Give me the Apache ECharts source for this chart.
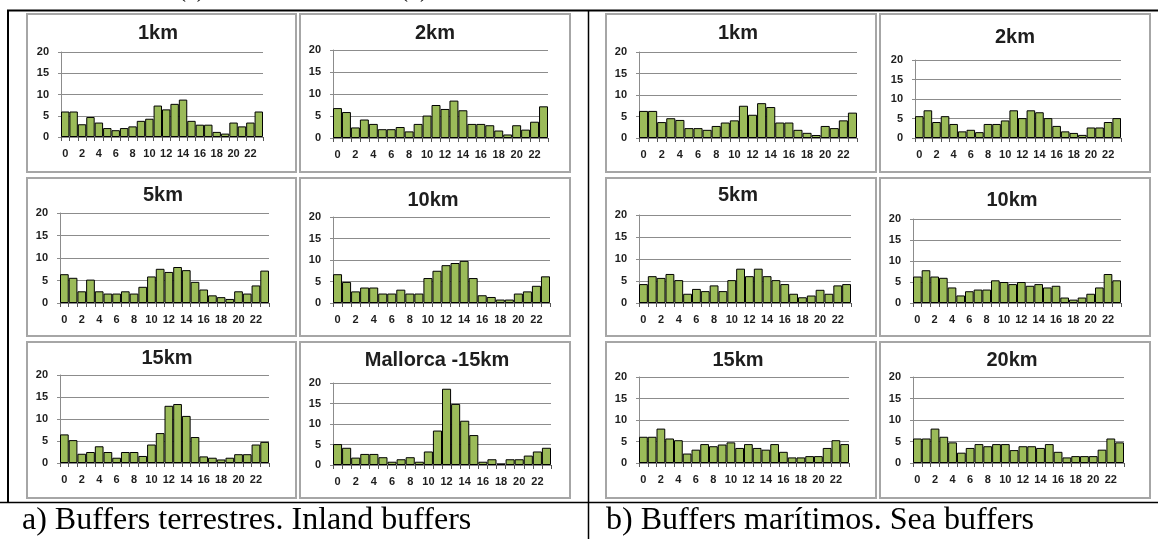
<!DOCTYPE html>
<html>
<head>
<meta charset="utf-8">
<script src="https://cdn.jsdelivr.net/npm/echarts@6/dist/echarts.min.js"></script>
<style>
  html, body { margin: 0; padding: 0; background: #ffffff; }
  #chart { width: 1159px; height: 539px; }
</style>
</head>
<body>
<div id="chart"></div>
<script>
// Hour of day (category axis)
const hours = ['0','1','2','3','4','5','6','7','8','9','10','11','12','13','14','15','16','17','18','19','20','21','22','23'];

// a) Inland buffers — share of events per hour (%)
const inland1km    = [6.0,6.0,3.0,4.7,3.4,2.1,1.6,2.1,2.5,3.8,4.3,7.4,6.5,7.8,8.8,3.8,2.9,2.9,1.2,0.8,3.4,2.5,3.4,6.0];
const inland2km    = [6.8,5.9,2.4,4.2,3.2,2.0,2.0,2.5,1.5,3.2,5.1,7.5,6.6,8.5,6.3,3.2,3.2,2.9,1.7,0.8,2.9,1.9,3.7,7.2];
const inland5km    = [6.4,5.6,2.6,5.2,2.6,2.1,2.1,2.6,2.1,3.6,5.9,7.6,6.9,8.0,7.3,4.7,3.0,1.7,1.3,0.9,2.6,2.1,3.9,7.2];
const inland10km   = [6.7,4.9,2.7,3.6,3.6,2.2,2.2,3.1,2.2,2.2,5.8,7.5,8.8,9.3,9.8,5.8,1.8,1.4,0.8,0.8,2.2,2.7,4.0,6.2];
const inland15km   = [6.5,5.2,2.1,2.5,3.8,2.5,1.2,2.5,2.5,1.6,4.2,6.8,13.0,13.4,10.7,5.9,1.5,1.2,0.8,1.2,2.0,2.0,4.2,4.8];
const mallorca15km = [5.1,4.2,1.8,2.7,2.7,1.9,0.8,1.4,1.9,0.8,3.3,8.4,18.6,14.9,10.8,7.3,0.8,1.4,0.4,1.4,1.4,2.3,3.3,4.2];

// b) Sea buffers — share of events per hour (%)
const sea1km  = [6.3,6.3,3.7,4.6,4.2,2.3,2.3,1.9,2.8,3.6,4.1,7.5,5.4,8.1,7.2,3.6,3.6,1.9,1.2,0.7,2.8,2.3,4.1,5.9];
const sea2km  = [5.6,7.1,4.1,5.6,3.6,1.7,2.1,1.5,3.6,3.6,4.5,7.1,5.1,7.1,6.6,5.1,3.1,1.7,1.3,0.8,2.7,2.7,4.1,5.1];
const sea5km  = [4.3,6.1,5.7,6.6,5.2,2.1,3.2,2.7,4.0,2.7,5.2,7.8,6.1,7.8,6.1,5.2,4.3,2.1,1.3,1.7,3.0,2.1,4.0,4.3];
const sea10km = [6.3,7.8,6.3,6.0,3.7,1.8,2.8,3.2,3.2,5.4,5.0,4.5,5.0,4.1,4.5,3.7,4.1,1.3,0.8,1.3,2.2,3.7,6.9,5.4];
const sea15km = [6.1,6.1,8.0,5.7,5.3,2.2,3.1,4.4,3.9,4.3,4.8,3.5,4.4,3.5,3.1,4.4,2.6,1.3,1.3,1.6,1.6,3.5,5.3,4.4];
const sea20km = [5.7,5.7,8.0,6.1,4.8,2.4,3.5,4.4,3.9,4.4,4.4,3.0,3.9,3.9,3.5,4.4,2.6,1.3,1.6,1.6,1.6,3.1,5.7,4.8];

// Panel titles and the series each panel shows, in reading order
const panelTitles = ['1km','2km','1km','2km','5km','10km','5km','10km','15km','Mallorca -15km','15km','20km'];
const panelSeries = [inland1km, inland2km, sea1km, sea2km,
                     inland5km, inland10km, sea5km, sea10km,
                     inland15km, mallorca15km, sea15km, sea20km];

// Value axis range
const yMin = 0, yMax = 20, yStep = 5;

// Table captions
const captionA = 'a) Buffers terrestres. Inland buffers';
const captionB = 'b) Buffers marítimos. Sea buffers';

// ---- layout (pixels) ----
// chart frame boxes [x, y, w, h]
const frames = [
  [27, 14, 269, 158], [300, 14, 270, 158], [606, 14, 270, 158], [880, 14, 270, 158],
  [27, 178, 269, 158], [300, 178, 270, 158], [606, 178, 270, 158], [880, 178, 270, 158],
  [27, 342, 269, 156], [300, 342, 270, 156], [606, 342, 270, 156], [880, 342, 270, 156]
];
// plot areas [left, top, right, bottom]
const plots = [
  [61, 52, 263, 137], [333, 50, 548, 138], [639, 52, 857, 138], [915, 60, 1121, 138],
  [60, 213, 269, 303], [333, 217, 550, 303], [639, 215, 851, 303], [913, 219, 1121, 303],
  [60, 375, 269, 463], [333, 383, 551, 465], [639, 377, 849, 463], [913, 377, 1124, 463]
];
// title centres [x, y]
const titlePos = [
  [158, 33], [435, 33], [738, 33], [1015, 37],
  [163, 195], [433, 200], [738, 195], [1012, 200],
  [167, 358], [437, 360], [738, 360], [1012, 360]
];

const BAR_FILL = '#9bbb59';
const GRID_GRAY = '#8c8c8c';
const TEXT = '#1e1e1e';
const SANS = '"Liberation Sans", Arial, sans-serif';
const SERIF = '"Liberation Serif", "Times New Roman", serif';

const grids = [], xAxes = [], yAxes = [], series = [], graphics = [];

panelSeries.forEach((values, i) => {
  const [l, t, r, b] = plots[i];
  grids.push({ left: l, top: t, width: r - l, height: b - t, containLabel: false });
  xAxes.push({
    type: 'category', gridIndex: i, data: hours, boundaryGap: true,
    axisLine: { show: true, lineStyle: { color: GRID_GRAY, width: 1 } },
    axisTick: { show: true, interval: 0, length: 4, lineStyle: { color: '#555' } },
    axisLabel: { interval: 1, color: TEXT, fontSize: 11, fontWeight: 'bold', fontFamily: SANS, margin: 11 },
    splitLine: { show: false }
  });
  yAxes.push({
    type: 'value', gridIndex: i, min: yMin, max: yMax, interval: yStep,
    axisLine: { show: true, lineStyle: { color: GRID_GRAY, width: 1 } },
    axisTick: { show: true, length: 3, lineStyle: { color: GRID_GRAY } },
    axisLabel: { color: TEXT, fontSize: 11, fontWeight: 'bold', fontFamily: SANS, margin: 12 },
    splitLine: { show: true, lineStyle: { color: GRID_GRAY, width: 1 } }
  });
  series.push({
    type: 'bar', xAxisIndex: i, yAxisIndex: i, data: values,
    barCategoryGap: '0%', silent: true,
    itemStyle: { color: BAR_FILL, borderColor: '#000', borderWidth: 1 }
  });

  const [fx, fy, fw, fh] = frames[i];
  graphics.push({
    type: 'rect', z: -1, silent: true,
    shape: { x: fx, y: fy, width: fw, height: fh },
    style: { fill: '#fff', stroke: '#a6a6a6', lineWidth: 2 }
  });
  graphics.push({
    type: 'text', silent: true, x: titlePos[i][0], y: titlePos[i][1],
    style: { text: panelTitles[i], fill: TEXT, font: 'bold 20px ' + SANS, textAlign: 'center', textVerticalAlign: 'middle' }
  });
});

// table rules
const rule = (x1, y1, x2, y2, w) => ({
  type: 'line', silent: true, z: 5,
  shape: { x1, y1, x2, y2 }, style: { stroke: '#000', lineWidth: w }
});
graphics.push(rule(7, 10.5, 1158, 10.5, 2));
graphics.push(rule(8, 10, 8, 503, 2));
graphics.push(rule(588.5, 10, 588.5, 539, 1.5));
graphics.push(rule(0, 502.5, 1158, 502.5, 1.5));

// captions
graphics.push({
  type: 'text', silent: true, x: 22, y: 521,
  style: { text: captionA, fill: '#000', font: '32px ' + SERIF, textAlign: 'left', textVerticalAlign: 'middle' }
});
graphics.push({
  type: 'text', silent: true, x: 606, y: 521,
  style: { text: captionB, fill: '#000', font: '32px ' + SERIF, textAlign: 'left', textVerticalAlign: 'middle' }
});
// sub-figure markers from the line above, cut by the top edge
graphics.push({
  type: 'text', silent: true, x: 178, y: -9,
  style: { text: '(a)', fill: '#000', font: '24px ' + SERIF, textAlign: 'left', textVerticalAlign: 'middle' }
});
graphics.push({
  type: 'text', silent: true, x: 400, y: -9,
  style: { text: '(b)', fill: '#000', font: '24px ' + SERIF, textAlign: 'left', textVerticalAlign: 'middle' }
});

const chart = echarts.init(document.getElementById('chart'), null, { renderer: 'canvas' });
chart.setOption({
  animation: false,
  backgroundColor: '#ffffff',
  grid: grids,
  xAxis: xAxes,
  yAxis: yAxes,
  series: series,
  graphic: { elements: graphics }
});
</script>
</body>
</html>
